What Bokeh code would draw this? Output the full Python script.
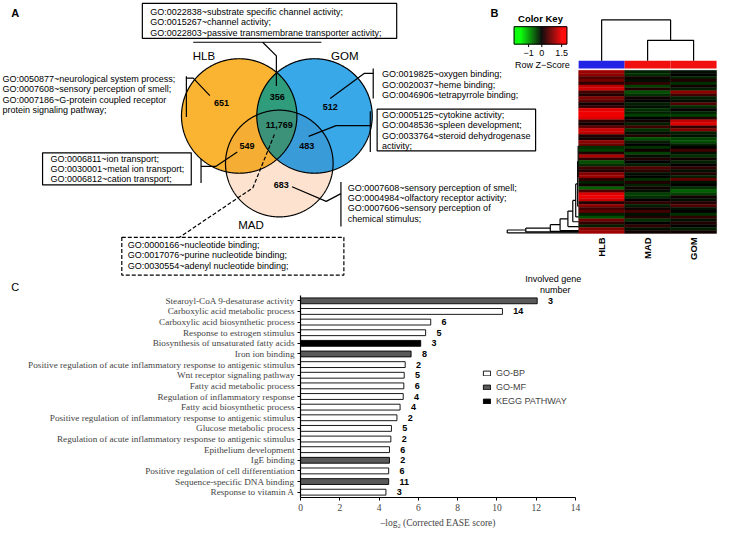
import numpy as np
from bokeh.plotting import figure
from bokeh.layouts import column
from bokeh.models import (Range1d, FactorRange, ColumnDataSource, LinearColorMapper,
                          Legend, LegendItem, FixedTicker)
from bokeh.transform import transform, dodge
from bokeh.core.properties import value
from bokeh.embed import file_html
from bokeh.resources import INLINE

# ======================= DATA =======================
# Panel A : Venn diagram
venn_sets = ["HLB", "GOM", "MAD"]
venn_regions = [("HLB",), ("GOM",), ("MAD",), ("HLB", "GOM"), ("HLB", "MAD"), ("GOM", "MAD"), ("HLB", "GOM", "MAD")]
venn_counts = [651, 512, 683, 356, 549, 483, 11769]

go_hlb_gom = ["GO:0022838~substrate specific channel activity;",
              "GO:0015267~channel activity;",
              "GO:0022803~passive transmembrane transporter activity;"]
go_hlb = ["GO:0050877~neurological system process;",
          "GO:0007608~sensory perception of smell;",
          "GO:0007186~G-protein coupled receptor",
          "protein signaling pathway;"]
go_gom = ["GO:0019825~oxygen binding;",
          "GO:0020037~heme binding;",
          "GO:0046906~tetrapyrrole binding;"]
go_gom_mad = ["GO:0005125~cytokine activity;",
              "GO:0048536~spleen development;",
              "GO:0033764~steroid dehydrogenase",
              "activity;"]
go_mad = ["GO:0007608~sensory perception of smell;",
          "GO:0004984~olfactory receptor activity;",
          "GO:0007606~sensory perception of",
          "chemical stimulus;"]
go_hlb_mad = ["GO:0006811~ion transport;",
              "GO:0030001~metal ion transport;",
              "GO:0006812~cation transport;"]
go_all = ["GO:0000166~nucleotide binding;",
          "GO:0017076~purine nucleotide binding;",
          "GO:0030554~adenyl nucleotide binding;"]

# Panel B : heatmap (row Z-scores)
heat_samples = ["HLB", "MAD", "GOM"]
hlb_z = [1.0, 0.9, 0.5, 0.7, 0.3, 1.2, 1.3, 0.4, 0.2, 0.8, 0.6, 0.1, 0.3, 1.4,
         1.5, 1.5, 1.4, 0.3, 0.1, 0.6, 1.3, 1.2, 0.2, 0.1, 0.9, 0.7, -0.3, -0.4,
         0.2, 1.1, 0.3, -0.5, -0.3, 0.4, 0.2, 0.8, 1.0, 0.3, -0.2, 0.1, -0.6, 0.5,
         1.4, 1.5, 1.3, 0.2, 0.9, 0.4, 0.6, -0.2, -0.5, 0.7, 0.3, -0.2, 0.8, 1.0]
mad_z = [-0.2, -0.3, 0.1, -0.1, 0.3, -0.4, 0.2, -0.5, -0.3, 0.1, 0.0, -0.2, -0.1, -0.3,
         -0.2, -0.4, 0.0, 0.1, -0.2, 0.4, -0.3, -0.1, 0.2, -0.5, -0.2, 0.0, -0.3, 0.1,
         -0.4, -0.1, 0.2, 0.0, -0.2, 0.5, 0.3, -0.1, 0.0, -0.3, 0.2, -0.2, 0.1, -0.1,
         -0.4, -0.3, 0.0, 0.3, -0.2, 0.1, 0.4, -0.1, 0.2, -0.3, 0.0, 0.3, -0.1, 0.1]
gom_z = [-0.1, 0.0, -0.2, 0.2, -0.3, 0.1, -0.2, 0.9, 0.4, -0.2, -0.1, 0.5, -0.3, 0.0,
         -0.2, -0.4, 0.2, 1.2, 1.4, 0.3, 0.8, -0.2, -0.1, -0.4, -0.5, -0.2, 0.0, 0.4,
         -0.1, -0.3, 0.1, -0.2, 0.0, 0.3, -0.1, 0.2, -0.2, 0.6, -0.1, 0.0, -0.3, -0.6,
         -0.4, 0.1, -0.1, 0.2, 0.5, -0.1, 0.0, -0.3, 0.3, -0.1, 0.2, 0.0, -0.2, 0.1]
sample_side_color = ["#2323e6", "#f01010", "#f01010"]
col_merges = [(1, 2, 1.0), (0, 3, 2.0)]          # child a, child b, height (node 3 = first merge)
row_merge_depth = [7.3, 5.4, 2.9, 1.9, 1.1, 0.6, 0.3, 0.1, 0.05]
row_merge_leaf = [55.83, 55.5, 55.33, 55.0, 53.67, 52.0, 50.33, 46.67, 36.67]
row_inner_leaf = 26.0
key_ticks = [-1, 0, 1.5]
key_tick_labels = ["\u22121", "0", "1.5"]

# Panel C : enrichment bars
terms = ["Stearoyl-CoA 9-desaturase activity",
         "Carboxylic acid metabolic process",
         "Carboxylic acid biosynthetic process",
         "Response to estrogen stimulus",
         "Biosynthesis of unsaturated fatty acids",
         "Iron ion binding",
         "Positive regulation of acute inflammatory response to antigenic stimulus",
         "Wnt receptor signaling pathway",
         "Fatty acid metabolic process",
         "Regulation of inflammatory response",
         "Fatty acid biosynthetic process",
         "Positive regulation of inflammatory response to antigenic stimulus",
         "Glucose metabolic process",
         "Regulation of acute inflammatory response to antigenic stimulus",
         "Epithelium development",
         "IgE binding",
         "Positive regulation of cell differentiation",
         "Sequence-specific DNA binding",
         "Response to vitamin A"]
scores = [12.05, 10.28, 6.63, 6.37, 6.12, 5.63, 5.33, 5.28, 5.26, 5.23,
          5.07, 4.91, 4.63, 4.60, 4.53, 4.53, 4.49, 4.49, 4.35]
gene_counts = [3, 14, 6, 5, 3, 8, 2, 5, 6, 4, 4, 2, 5, 2, 6, 2, 6, 11, 3]
term_types = ["GO-MF", "GO-BP", "GO-BP", "GO-BP", "KEGG PATHWAY", "GO-MF", "GO-BP",
              "GO-BP", "GO-BP", "GO-BP", "GO-BP", "GO-BP", "GO-BP", "GO-BP", "GO-BP",
              "GO-MF", "GO-BP", "GO-MF", "GO-BP"]
type_names = ["GO-BP", "GO-MF", "KEGG PATHWAY"]
x_ticks = [0, 2, 4, 6, 8, 10, 12, 14]

# ======================= LAYOUT / STYLE =======================
REF_W, REF_H = 736, 546
W, H = 720, 530
SPLIT = 304
SX, SY = W / REF_W, H / REF_H
TOP_H = round(SPLIT * SY)
BOT_H = H - TOP_H
SANS = value("Liberation Sans")

top = figure(width=W, height=TOP_H, x_range=Range1d(0, REF_W), y_range=Range1d(SPLIT, 0),
             x_axis_type=None, y_axis_type=None, output_backend="svg",
             toolbar_location=None, min_border=0, frame_align=False)
top.grid.visible = False
top.outline_line_color = None


def txt(fig, xs, ys, texts, size="9px", font=SANS, style="normal", align="left",
        baseline="middle", angle=0, **kw):
    fig.text(x=xs, y=ys, text=texts, text_font=font, text_font_size=size,
             text_font_style=style, text_align=align, text_baseline=baseline,
             angle=angle, text_color="black", **kw)


def block(fig, lines, x, y0, dy=10.6, size="9px"):
    txt(fig, [x] * len(lines), [y0 + i * dy for i in range(len(lines))], lines, size=size)


# ---------------- Venn ----------------
venn_geom = {"HLB": (244, 119, 59), "GOM": (321, 119, 59), "MAD": (285, 168, 55)}
region_color = {("HLB",): "#fab431", ("GOM",): "#38a8e8", ("MAD",): "#fde3cf",
                ("HLB", "MAD"): "#f5ad33", ("GOM", "MAD"): "#3a9bd9",
                ("HLB", "GOM"): "#2f9c7b", ("HLB", "GOM", "MAD"): "#3b9279"}
count_pos = [(226, 106), (337, 110), (287, 190), (283, 99), (252, 150), (313, 150), (285, 128)]
set_label_pos = {"HLB": (208, 57), "GOM": (352, 57), "MAD": (256, 231)}


def circle_xy(cx, cy, r, n=720):
    t = np.linspace(0, 2 * np.pi, n, endpoint=False)
    return cx + r * np.cos(t), cy + r * np.sin(t)


def region_poly(names):
    px, py = [], []
    for nm in names:
        x, y = circle_xy(*venn_geom[nm])
        ok = np.ones_like(x, dtype=bool)
        for other in names:
            if other != nm:
                ox, oy, orr = venn_geom[other]
                ok &= (x - ox) ** 2 + (y - oy) ** 2 <= orr ** 2 + 1e-6
        px.extend(x[ok]); py.extend(y[ok])
    px, py = np.array(px), np.array(py)
    cx, cy = px.mean(), py.mean()
    order = np.argsort(np.arctan2(py - cy, px - cx))
    return list(px[order]), list(py[order])


paint = [("MAD",), ("HLB",), ("GOM",), ("HLB", "MAD"), ("GOM", "MAD"), ("HLB", "GOM"), ("HLB", "GOM", "MAD")]
pxs, pys, pcs = [], [], []
for reg in paint:
    if len(reg) == 1:
        x, y = circle_xy(*venn_geom[reg[0]])
        x, y = list(x), list(y)
    else:
        x, y = region_poly(reg)
    pxs.append(x); pys.append(y); pcs.append(region_color[reg])
top.patches(xs=pxs, ys=pys, fill_color=pcs, line_color=None)
oxs, oys = [], []
for nm in venn_sets:
    x, y = circle_xy(*venn_geom[nm])
    oxs.append(list(x)); oys.append(list(y))
top.patches(xs=oxs, ys=oys, fill_color=None, line_color="black", line_width=1.2)

txt(top, [p[0] for p in count_pos], [p[1] for p in count_pos],
    [f"{c:,}" for c in venn_counts], size="9px", style="bold", align="center")
txt(top, [set_label_pos[s][0] for s in venn_sets], [set_label_pos[s][1] for s in venn_sets],
    venn_sets, size="11.5px", align="center")

# GO annotation blocks
block(top, go_hlb_gom, 153, 12)
top.quad(left=145, right=405, top=3, bottom=39, fill_color=None, line_color="black", line_width=1.2)
block(top, go_hlb, 2, 81)
block(top, go_gom, 390, 76)
block(top, go_gom_mad, 390, 118)
top.quad(left=385, right=547, top=112, bottom=155, fill_color=None, line_color="black", line_width=1.2)
block(top, go_mad, 355, 193)
block(top, go_hlb_mad, 51, 163)
top.quad(left=43, right=195, top=157, bottom=190, fill_color=None, line_color="black", line_width=1.2)
block(top, go_all, 130, 252)
top.quad(left=124, right=351, top=244, bottom=283, fill_color=None, line_color="black",
         line_width=1.2, line_dash="4 2")

leaders_x = [[197, 328], [268, 282, 282],
             [190, 190], [190, 197, 214],
             [381, 381], [381, 372, 337],
             [378, 378], [378, 343, 315],
             [348, 348], [298, 333, 348],
             [205, 205], [205, 220, 242]]
leaders_y = [[43, 43], [43, 57, 88],
             [78, 120], [80, 80, 98],
             [70, 101], [75, 75, 101],
             [114, 156], [129, 129, 140],
             [187, 233], [192, 207, 199],
             [163, 188], [171, 171, 156]]
top.multi_line(xs=leaders_x, ys=leaders_y, line_color="black", line_width=1.2)
top.line(x=[280, 258, 183], y=[138, 193, 244], line_color="black", line_width=1.2, line_dash="4 2")

txt(top, [15], [13], ["A"], size="11px", style="bold", align="center")
txt(top, [505], [13], ["B"], size="11px", style="bold", align="center")
txt(top, [15], [295], ["C"], size="11px", align="center")

# ---------------- Heatmap ----------------
HM_L, HM_R, HM_T, HM_B = 591, 732, 72, 240
n_rows = len(hlb_z)
cw = (HM_R - HM_L) / len(heat_samples)
rh = (HM_B - HM_T) / n_rows
top.extra_x_ranges = {
    "hm": Range1d(-HM_L / cw, (REF_W - HM_L) / cw),
    "rd": Range1d(HM_L / 10.0, (HM_L - REF_W) / 10.0),
    "key": Range1d(-2.1 - 525 / 13.5, -2.1 + (REF_W - 525) / 13.5),
}
top.extra_y_ranges = {
    "hm": Range1d((SPLIT - HM_T) / rh, -HM_T / rh),
    "dend": Range1d(-(SPLIT - 62) / 21.0, 62 / 21.0),
}

palette = []
for i in range(65):
    v = -1 + 2 * i / 64
    if v < 0:
        palette.append("#%02x%02x%02x" % (0, int(round(255 * -v)), 0))
    else:
        palette.append("#%02x%02x%02x" % (int(round(255 * v)), 0, 0))
mapper = LinearColorMapper(palette=palette, low=-1.6, high=1.6)

cx, cy, cz = [], [], []
for j, col in enumerate([hlb_z, mad_z, gom_z]):
    for i, z in enumerate(col):
        cx.append(j + 0.5); cy.append(i + 0.5); cz.append(z)
hsrc = ColumnDataSource(dict(x=cx, y=cy, z=cz))
top.rect(x="x", y="y", width=1, height=1, source=hsrc, fill_color=transform("z", mapper),
         line_color=transform("z", mapper), line_width=0.4, x_range_name="hm", y_range_name="hm")

# column side colours
top.rect(x=[j + 0.5 for j in range(3)], y=[-1.95] * 3, width=1, height=2.7,
         fill_color=sample_side_color, line_color=None, x_range_name="hm", y_range_name="hm")
# sample labels
txt(top, [j + 0.5 for j in range(3)], [(244 - HM_T) / rh] * 3, heat_samples, size="9.5px",
    style="bold", align="right", angle=np.pi / 2, x_range_name="hm", y_range_name="hm")

# column dendrogram
node_x = {j: j + 0.5 for j in range(3)}
node_h = {j: 0.0 for j in range(3)}
dxs, dys = [], []
for k, (a, b, h) in enumerate(col_merges):
    nid = 3 + k
    dxs.append([node_x[a], node_x[a], node_x[b], node_x[b]])
    dys.append([node_h[a], h, h, node_h[b]])
    node_x[nid] = (node_x[a] + node_x[b]) / 2
    node_h[nid] = h
top.multi_line(xs=dxs, ys=dys, line_color="black", line_width=1.2,
               x_range_name="hm", y_range_name="dend")

# row dendrogram (staircase, midpoint rule)
K = len(row_merge_depth)
rxs, rys = [], []
a, b = row_inner_leaf, row_merge_leaf[K - 1]
d = row_merge_depth[K - 1]
rxs += [[d, d], [d, 0], [d, 0]]
rys += [[a, b], [a, a], [b, b]]
mid = (a + b) / 2
for i in range(K - 2, -1, -1):
    d, dn, leaf = row_merge_depth[i], row_merge_depth[i + 1], row_merge_leaf[i]
    rxs += [[d, d], [d, dn], [d, 0]]
    rys += [[mid, leaf], [mid, mid], [leaf, leaf]]
    mid = (mid + leaf) / 2
top.multi_line(xs=rxs, ys=rys, line_color="black", line_width=1.2,
               x_range_name="rd", y_range_name="hm")

# colour key
kv = np.linspace(-2.1, 1.9, 81)
kw = float(kv[1] - kv[0])
ksrc = ColumnDataSource(dict(v=list((kv[:-1] + kv[1:]) / 2), y=[36] * 80))
top.rect(x="v", y="y", width=kw, height=18, source=ksrc,
         fill_color=transform("v", mapper), line_color=transform("v", mapper), line_width=0.4,
         x_range_name="key")
top.quad(left=[-2.1], right=[1.9], top=[27], bottom=[45], fill_color=None,
         line_color="black", line_width=1, x_range_name="key")
top.segment(x0=key_ticks, x1=key_ticks, y0=[45] * 3, y1=[48] * 3, line_color="black",
            x_range_name="key")
txt(top, key_ticks, [54] * 3, key_tick_labels, size="9px", align="center", x_range_name="key")
txt(top, [552], [19], ["Color Key"], size="9.5px", style="bold", align="center")
txt(top, [554], [66], ["Row Z\u2212Score"], size="9px", align="center")

# header for gene numbers
txt(top, [565, 567], [287, 298], ["Involved gene", "number"], size="9px", align="center")

# ---------------- Panel C bars ----------------
PX_PER_UNIT = 20.1 * SX
frame_left = round(307 * SX)
frame_w = 14 * PX_PER_UNIT
frame_bottom_px = BOT_H - round((512 - SPLIT) * SY)

bot = figure(width=W, height=BOT_H, y_range=FactorRange(*terms[::-1]), x_range=Range1d(0, 14),
             output_backend="svg", toolbar_location=None, frame_align=False,
             min_border_left=frame_left, min_border_right=int(round(W - frame_left - frame_w)),
             min_border_top=0, min_border_bottom=frame_bottom_px)
bot.grid.visible = False
bot.outline_line_color = None

fills = {"GO-BP": "white", "GO-MF": "#595959", "KEGG PATHWAY": "black"}
renderers = {}
for t in type_names:
    idx = [i for i, tt in enumerate(term_types) if tt == t]
    src = ColumnDataSource(dict(term=[terms[i] for i in idx], score=[scores[i] for i in idx]))
    renderers[t] = bot.hbar(y="term", right="score", left=0, height=0.55, source=src,
                            fill_color=fills[t], line_color="black", line_width=0.9)

nsrc = ColumnDataSource(dict(term=terms, score=scores, n=[str(c) for c in gene_counts]))
bot.text(x=dodge("score", 0.55, range=bot.x_range), y="term", text="n", source=nsrc,
         text_font=SANS, text_font_size="9px", text_font_style="bold",
         text_baseline="middle", text_align="left")

legend = Legend(items=[LegendItem(label=t, renderers=[renderers[t]]) for t in type_names],
                location=(round((493 - 307) * SX), round((512 - 419) * SY)),
                glyph_width=9, glyph_height=6, label_height=12, spacing=2, padding=0, margin=0,
                label_standoff=5, label_text_font="Liberation Sans", label_text_font_size="9px",
                border_line_color=None, background_fill_alpha=0)
bot.add_layout(legend)

xa = bot.xaxis[0]
xa.ticker = FixedTicker(ticks=x_ticks)
xa.axis_label = "\u2013log\u2082 (Corrected EASE score)"
xa.axis_label_text_font = "Liberation Serif"
xa.axis_label_text_font_style = "normal"
xa.axis_label_text_font_size = "9.5px"
xa.axis_label_standoff = 4
xa.major_label_text_font = "Liberation Serif"
xa.major_label_text_font_size = "9.5px"
xa.major_label_standoff = 3
xa.major_tick_out = 3
xa.major_tick_in = 0
xa.minor_tick_line_color = None
xa.axis_line_width = 1.2

ya = bot.yaxis[0]
ya.major_label_text_font = "Liberation Serif"
ya.major_label_text_font_size = "9.2px"
ya.major_label_standoff = 3
ya.major_tick_out = 3
ya.major_tick_in = 0
ya.axis_line_width = 1.2

layout = column(top, bot, spacing=0)
open("out.html", "w").write(file_html(layout, INLINE))
